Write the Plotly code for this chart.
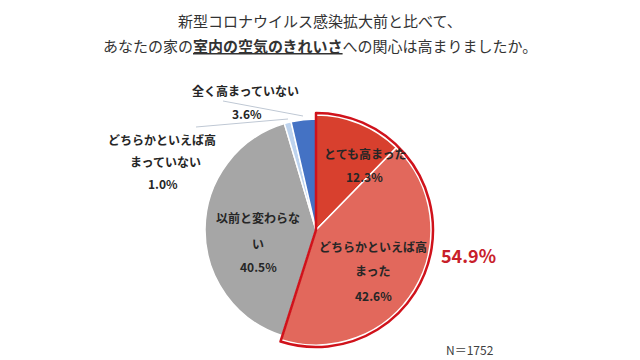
import plotly.graph_objects as go

# ---- data ----
categories = ["とても高まった", "どちらかといえば高まった", "以前と変わらない",
              "どちらかといえば高まっていない", "全く高まっていない"]
values = [12.3, 42.6, 40.5, 1.0, 3.6]
label_lines = [["とても高まった"], ["どちらかといえば高", "まった"], ["以前と変わらな", "い"],
               ["どちらかといえば高", "まっていない"], ["全く高まっていない"]]
group_label = "54.9%"
n_text = "N＝1752"
title_line1 = "新型コロナウイルス感染拡大前と比べて、"
title_line2 = "あなたの家の<b><u>室内の空気のきれいさ</u></b>への関心は高まりましたか。"

colors = ["#D8402E", "#E2685C", "#A6A6A6", "#BDD3EE", "#4472C4"]
W, H = 640, 360
FONT = "Noto Sans CJK JP"


def dom(cx, cy, r):
    return dict(x=[(cx - r) / W, (cx + r) / W], y=[(H - cy - r) / H, (H - cy + r) / H])


def P(x, y):
    return x / W, 1 - y / H


fig = go.Figure()
# base pie (all slices)
fig.add_trace(go.Pie(values=values, labels=categories, sort=False, direction="clockwise",
                     rotation=0, marker=dict(colors=colors, line=dict(color="white", width=1.5)),
                     textinfo="none", domain=dom(316, 230, 111), showlegend=False, hoverinfo="label+percent"))
# enlarged red group
rest = sum(values[2:])
fig.add_trace(go.Pie(values=values[:2] + [rest], labels=categories[:2] + ["other"], sort=False,
                     direction="clockwise", rotation=0,
                     marker=dict(colors=colors[:2] + ["rgba(0,0,0,0)"],
                                 line=dict(color=["white", "white", "rgba(0,0,0,0)"], width=[1.5, 1.5, 0])),
                     textinfo="none", domain=dom(316, 230, 115), showlegend=False, hoverinfo="skip"))
# outline of the red group
fig.add_trace(go.Pie(values=[sum(values[:2]), rest], labels=["group", "other"], sort=False,
                     direction="clockwise", rotation=0,
                     marker=dict(colors=["rgba(0,0,0,0)", "rgba(0,0,0,0)"],
                                 line=dict(color=["#D0121B", "rgba(0,0,0,0)"], width=[2.5, 0])),
                     textinfo="none", domain=dom(316, 230, 117), showlegend=False, hoverinfo="skip"))

ann = []


def add_text(x, y, text, size=12, color="#262626", bold=True, fam=FONT):
    ax, ay = P(x, y)
    ann.append(dict(x=ax, y=ay, xref="paper", yref="paper", text=(f"<b>{text}</b>" if bold else text),
                    showarrow=False, font=dict(size=size, color=color, family=fam),
                    xanchor="center", yanchor="middle"))


def pct(v):
    return f"{v:.1f}%"

# inside labels
add_text(365, 153, label_lines[0][0])
add_text(364, 176, pct(values[0]))
add_text(373, 246, label_lines[1][0])
add_text(373, 270, label_lines[1][1])
add_text(373, 295, pct(values[1]))
add_text(258, 218, label_lines[2][0])
add_text(258, 243, label_lines[2][1])
add_text(258, 266, pct(values[2]))
# outside labels
add_text(162, 140, label_lines[3][0])
add_text(165, 161, label_lines[3][1])
add_text(163, 183, pct(values[3]))
add_text(245, 90, label_lines[4][0])
add_text(247, 113, pct(values[4]))
# group and N
add_text(468, 255, group_label, size=18, color="#C8202A")
add_text(470, 349, n_text, size=12, color="#404040", bold=False)
# title
add_text(320, 20, title_line1, size=15, color="#333333", bold=False)
add_text(320, 45, title_line2, size=15, color="#333333", bold=False)

shapes = []
for (x0, y0, x1, y1) in [(223, 101, 303, 116), (196, 127, 288, 119)]:
    a0, b0 = P(x0, y0)
    a1, b1 = P(x1, y1)
    shapes.append(dict(type="line", xref="paper", yref="paper", x0=a0, y0=b0, x1=a1, y1=b1,
                       line=dict(color="#BFC8D4", width=1)))

fig.update_layout(width=W, height=H, margin=dict(l=0, r=0, t=0, b=0),
                  paper_bgcolor="white", plot_bgcolor="white",
                  annotations=ann, shapes=shapes, font=dict(family=FONT))
fig.write_html("out.html", config={"displayModeBar": False},
               post_script="document.body.style.margin='0';document.body.style.overflow='hidden';")
